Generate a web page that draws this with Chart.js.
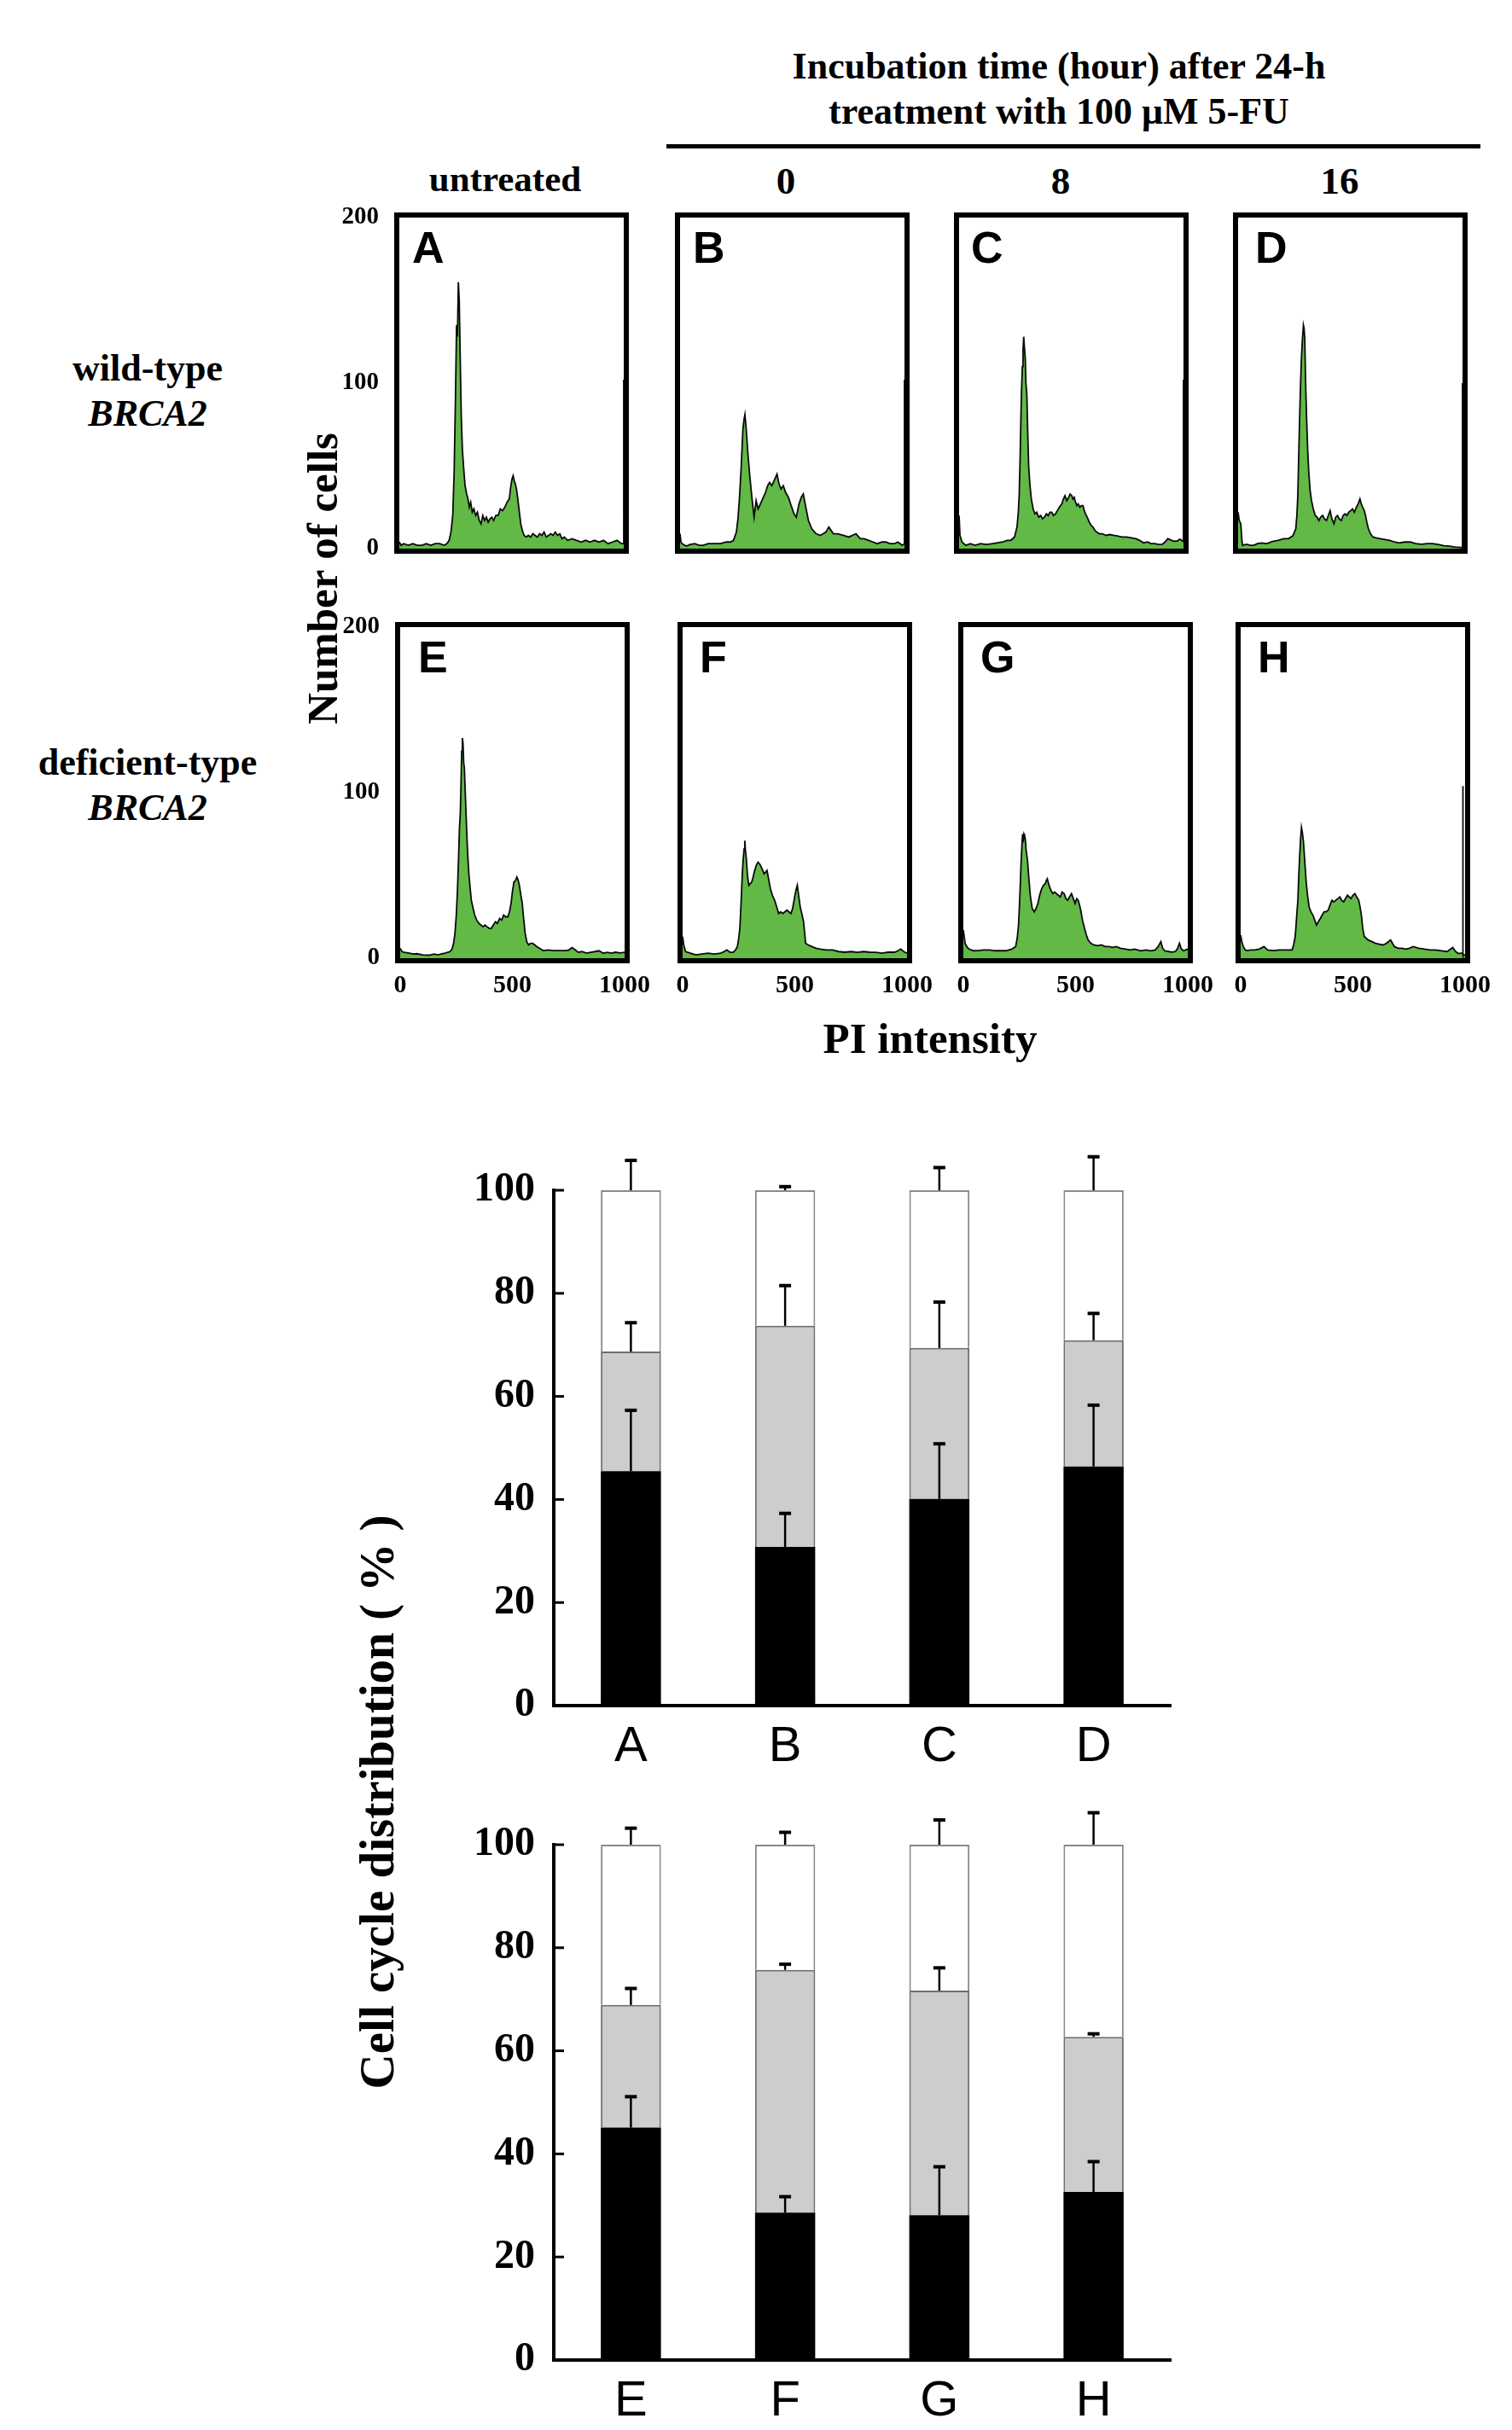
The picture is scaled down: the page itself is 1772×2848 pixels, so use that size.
<!DOCTYPE html>
<html><head><meta charset="utf-8">
<script src="https://cdn.jsdelivr.net/npm/chart.js@4.4.1/dist/chart.umd.min.js"></script>
<style>
html,body{margin:0;padding:0;background:#fff;}
body{width:1772px;height:2848px;position:relative;overflow:hidden;}
.t{position:absolute;font-family:"Liberation Serif","Times New Roman",serif;font-weight:bold;color:#000;white-space:nowrap;transform:translate(-50%,-50%);line-height:1;}
.rot{transform:translate(-50%,-50%) rotate(-90deg);}
.lt{position:absolute;font-family:"Liberation Sans",Arial,sans-serif;font-weight:bold;color:#000;line-height:1;font-size:52px;}
canvas{position:absolute;}
</style></head><body>

<div class="t" style="left:1241px;top:78px;font-size:44px;">Incubation time (hour) after 24-h</div>
<div class="t" style="left:1241px;top:131px;font-size:44px;">treatment with 100 μM 5-FU</div>
<div style="position:absolute;left:781px;top:169px;width:954px;height:5px;background:#000;"></div>
<div class="t" style="left:592px;top:209px;font-size:43px;">untreated</div>
<div class="t" style="left:921px;top:212px;font-size:45px;">0</div>
<div class="t" style="left:1243px;top:212px;font-size:45px;">8</div>
<div class="t" style="left:1570px;top:212px;font-size:45px;">16</div>
<div class="t" style="left:173px;top:432px;font-size:44px;">wild-type</div>
<div class="t" style="left:173px;top:485px;font-size:44px;font-style:italic;">BRCA2</div>
<div class="t" style="left:173px;top:894px;font-size:44px;">deficient-type</div>
<div class="t" style="left:173px;top:947px;font-size:44px;font-style:italic;">BRCA2</div>
<div class="t rot" style="left:378px;top:678px;font-size:51px;">Number of cells</div>
<div class="t" style="left:1090px;top:1217px;font-size:51px;">PI intensity</div>
<div class="t rot" style="left:441px;top:2112px;font-size:57px;">Cell cycle distribution ( % )</div>

<script>
// ---------- Histogram data (PI intensity vs number of cells) ----------
const histA_x = [0,8,20,40,60,80,100,120,140,160,180,200,212,222,230,238,244,250,255,259,263,267,271,276,281,287,293,300,306,312,318,325,332,340,348,356,364,372,380,388,396,404,412,420,430,440,450,460,470,480,490,496,502,507,512,517,522,528,534,541,548,556,565,575,585,595,605,615,625,635,645,655,665,675,685,695,705,715,725,735,750,770,790,810,830,850,870,890,910,930,950,970,990,1000,1000];
const histA_y = [4,2,3,2,3,2,2,3,2,3,3,2,3,5,10,20,45,90,135,128,161,150,118,80,60,48,38,33,30,25,28,22,24,20,22,17,15,20,17,19,16,18,19,17,20,20,24,23,25,28,30,37,42,44,41,39,36,30,23,15,11,8,7,8,7,9,8,7,9,8,10,7,8,9,8,10,8,9,6,7,5,6,5,4,5,4,5,4,5,3,4,5,3,3,102];

const histB_x = [0,4,9,28,45,66,85,104,125,155,180,206,225,238,251,258,264,272,280,285,289,295,302,310,320,330,339,348,358,371,381,390,399,409,419,432,441,450,460,470,483,495,508,518,530,540,549,559,572,587,606,625,638,650,663,683,702,727,752,784,803,820,841,860,879,900,917,935,956,970,981,990,1000,1000];
const histB_y = [9,4,3,1.5,2.5,3,2,2,3,3,3,4,4,5,10,18,29,48,72,78,81,72,58,45,31,19,29,24,27,31,34,38,40,38,41,45,39,36,38,34,31,26,21,19,27,31,33,26,17,12,9,8,9,10,13,9,9,8,7,9,6,6,5,4,3,4,4,3,3,4,3,2,3,102];

const histC_x = [0,4,13,30,50,72,95,122,150,172,195,213,230,247,258,264,268,272,275,278,282,285,288,291,295,298,302,306,310,316,322,330,338,346,355,364,372,380,389,397,405,413,421,430,438,447,452,458,465,472,480,488,495,502,508,513,519,525,531,538,545,552,558,563,571,580,589,597,605,613,625,638,655,672,688,705,725,747,768,788,805,822,840,855,872,890,905,918,930,940,947,960,972,980,988,995,1000,1000];
const histC_y = [20,8,4,2,3,2,3,2.5,3,3.5,4,5,5,7,13,22,33,55,76,95,110,120,128,122,115,100,93,70,50,38,30,24,21,22,19,20,18,19,21,20,22,22,20,21,23,25,26,27,30,32,29,31,33,32,30,31,28,26,27,25,26,26,23,21,19,16,14,13,11,10,9,9,8,8.5,8,7.7,7,7,6.5,6,5,3.5,4,3,3,2.5,2.6,4,6,5.5,5,4.5,4.6,5.5,5.6,4.5,4.3,102];

const histD_x = [0,5,12,17,20,37,55,70,86,103,128,153,178,203,224,244,257,262,266,270,274,278,282,286,291,294,297,301,305,310,315,321,327,335,344,352,360,368,377,385,394,402,410,418,427,435,443,451,460,468,476,485,493,502,510,518,527,535,543,549,555,562,568,575,581,590,601,615,634,655,676,697,718,742,767,792,817,842,867,892,917,942,967,985,1000,1000];
const histD_y = [22,17,15,5,2,2.6,2,2,3,3.4,3,4.3,5,6,6,7.7,12,20,32,55,78,98,114,125,135,133,127,100,80,60,46,35,29,24,20,19,17,19,20,18,17,20,23,18,15,19,20,18,17,20,21,20,22,23,24,22,25,27,30,27,25,23,20,15,12,9,7,6.5,6,5.5,5,4,3.4,4,4,3,2.6,3,3,2.5,1.7,1.5,1,0.8,0.5,100];

const histE_x = [0,8,18,40,60,74,100,129,150,170,185,200,212,222,231,238,244,250,255,260,264,268,271,274,277,280,283,286,290,295,300,306,312,317,325,332,341,351,360,369,378,387,397,406,415,424,433,443,452,461,470,480,487,494,500,507,514,520,526,531,538,544,550,557,564,572,581,590,600,609,620,637,660,683,705,720,738,752,766,780,793,810,830,849,868,886,905,923,940,959,980,1000];
const histE_y = [6,4,3.6,3,2.5,2.7,2,1.8,2.5,2,2.7,3,3.6,4,5.5,9,15,26,40,60,78,88,105,125,133,130,118,115,100,82,65,51,42,35,30,26,23,21,20,19,20,19,18,18,20,22,21,24,23,26,25,25,28,33,40,46,47,49,47,44,38,33,24,15,10,8,9,9,8,7,6,4.6,5,4.6,4.6,4.6,4.6,5,6.4,5,3.6,4,3,3.6,4,4.5,3,3.5,3,3.6,3.2,3.6];

const histF_x = [0,5,13,35,59,85,114,140,170,185,197,212,225,236,244,250,255,260,266,270,274,277,280,284,289,295,301,308,314,321,328,336,343,351,357,363,370,376,383,391,400,410,419,428,437,446,455,465,474,483,490,498,505,511,517,524,531,539,544,548,560,576,595,613,640,668,695,723,750,779,806,834,860,889,915,945,960,972,985,1000];
const histF_y = [13,8,4,3,2,2.5,3,2.5,3,4,5,3.5,3.5,5,7,12,18,32,51,60,66,71,65,60,50,44,45,46,49,53,56,58,57,55,53,51,52,53,48,42,38,35,31,27,28,27,28,29,28,27,30,36,41,44,38,31,27,22,15,9,8,7,6,5.5,5,5,4,3.6,4,3.5,4,3.6,3.5,3,3.6,3.6,4.5,5.5,4,3];

const histG_x = [0,4,8,15,25,45,66,90,116,140,166,190,216,233,240,246,250,254,257,261,264,267,270,273,276,280,286,292,299,307,316,324,332,340,349,357,365,370,374,382,390,399,407,415,423,432,440,449,457,465,473,482,490,498,505,512,518,523,531,540,548,556,568,581,598,615,632,648,665,681,700,723,744,764,790,814,835,855,868,880,888,897,915,930,945,955,963,970,980,990,1000];
const histG_y = [17,13,9,7,5.5,4.5,4.6,5,5,4.5,4.6,4.5,5.5,7,12,20,32,45,57,68,75,70,75,74,72,65,59,48,37,30,28,30,33,38,42,44,45,47,48,44,41,39,40,39,38,37,40,39,36,35,37,39,36,33,36,35,32,29,23,18,14,11,9,8,7.5,8,7,7,6.5,7,6,5.5,5,5.5,4.5,5,4.5,5,7,10,6,4.5,4,3.7,4,6,9,6,4.5,5,5.5];

const histH_x = [0,5,12,20,28,45,62,83,104,120,146,170,196,215,229,236,243,248,251,255,259,263,267,271,275,280,286,292,298,305,313,322,330,338,346,355,363,372,381,390,398,407,415,424,433,442,450,459,467,476,484,492,500,509,517,526,532,538,544,551,560,568,585,601,618,635,650,668,685,702,718,735,752,769,794,819,844,869,895,920,945,958,970,982,989,990,991,1000];
const histH_y = [14,10,7,5,4.6,5,5,5.5,7,5,4.6,5,5,5,5,8,13,22,28,35,50,62,72,79,76,70,58,46,38,31,28,26,23,20,22,24,26,28,28,29,32,35,34,35,36,37,35,34,36,38,37,36,38,39,37,35,31,26,18,13,12,11,10,9,8.5,8,9,11,7,6,6,5.5,6,7,6,5.5,5,5,4.5,4,6.4,4,2.8,3,3,104,2,2];

const histTicksX = [0, 500, 1000];
const histTicksY = [0, 100, 200];

// ---------- Cell-cycle distribution data (%) ----------
const barCats1 = ['A','B','C','D'];
const g1Top = [45.5, 30.8, 40.1, 46.4];
const sTop  = [23.2, 42.9, 29.3, 24.5];
const g2Top = [31.3, 26.3, 30.6, 29.1];
const g1ErrTop = [11.8, 6.5, 10.7, 11.9];
const sErrTop  = [5.6, 7.8, 8.9, 5.2];
const g2ErrTop = [5.8, 0.7, 4.4, 6.5];

const barCats2 = ['E','F','G','H'];
const g1Bot = [45.1, 28.6, 28.1, 32.6];
const sBot  = [23.8, 47.1, 43.6, 30.1];
const g2Bot = [31.1, 24.3, 28.3, 37.3];
const g1ErrBot = [6.0, 3.1, 9.4, 5.9];
const sErrBot  = [3.2, 1.1, 4.4, 0.6];
const g2ErrBot = [3.2, 2.4, 4.8, 6.2];

const barTicksY = [0, 20, 40, 60, 80, 100];

// ---------- helpers ----------
const SERIF = '"Liberation Serif","Times New Roman",serif';
const SANS = '"Liberation Sans",Arial,sans-serif';

const boxPlugin = {
  id: 'box',
  afterDraw(chart) {
    const {ctx, chartArea: a} = chart;
    ctx.save();
    ctx.strokeStyle = '#000';
    ctx.lineWidth = 6;
    ctx.strokeRect(a.left - 3, a.top - 3, a.right - a.left + 6, a.bottom - a.top + 6);
    ctx.restore();
  }
};

function makeCanvas(left, top, w, h) {
  const c = document.createElement('canvas');
  c.width = w; c.height = h;
  c.style.left = left + 'px'; c.style.top = top + 'px';
  c.style.width = w + 'px'; c.style.height = h + 'px';
  document.body.appendChild(c);
  return c;
}

function histPanel(letter, xs, ys, areaLeft, areaTop, showY, showX, letterOff) {
  const AW = 263, AH = 388, YW = 90, PT = 60, PR = 60, XH = 60;
  const c = makeCanvas(areaLeft - YW, areaTop - PT, YW + AW + PR, PT + AH + XH);
  new Chart(c, {
    type: 'line',
    data: { datasets: [{
      data: xs.map((x, i) => ({x: x, y: ys[i]})),
      borderColor: '#0a0a0a', borderWidth: 1.8,
      backgroundColor: '#62b946', fill: 'origin',
      pointRadius: 0, tension: 0
    }]},
    options: {
      responsive: false, animation: false, devicePixelRatio: 1,
      layout: { padding: { top: PT, right: PR, left: 0, bottom: 0 } },
      plugins: { legend: { display: false }, tooltip: { enabled: false } },
      scales: {
        x: {
          type: 'linear', min: 0, max: 1000,
          afterFit: s => { s.height = XH; },
          afterBuildTicks: s => { s.ticks = histTicksX.map(v => ({value: v})); },
          grid: { display: false, drawTicks: false }, border: { display: false },
          ticks: { display: showX, padding: 14, color: '#000', maxRotation: 0, autoSkip: false,
                   callback: v => String(v),
                   font: { family: SERIF, weight: 'bold', size: 30 } }
        },
        y: {
          min: 0, max: 200,
          afterFit: s => { s.width = YW; },
          afterBuildTicks: s => { s.ticks = histTicksY.map(v => ({value: v})); },
          grid: { display: false, drawTicks: false }, border: { display: false },
          ticks: { display: showY, padding: 24, color: '#000',
                   callback: v => String(v),
                   font: { family: SERIF, weight: 'bold', size: 29 } }
        }
      }
    },
    plugins: [boxPlugin]
  });
  const d = document.createElement('div');
  d.className = 'lt';
  d.textContent = letter;
  d.style.left = (areaLeft + letterOff) + 'px';
  d.style.top = (areaTop + 9) + 'px';
  document.body.appendChild(d);
}

const errPlugin = {
  id: 'errbars',
  afterDatasetsDraw(chart) {
    const {ctx} = chart;
    const y = chart.scales.y;
    const n = chart.data.labels.length;
    ctx.save();
    ctx.strokeStyle = '#000';
    for (let j = 0; j < n; j++) {
      let cum = 0;
      chart.data.datasets.forEach((ds, di) => {
        cum += ds.data[j];
        const bar = chart.getDatasetMeta(di).data[j];
        const y0 = y.getPixelForValue(cum);
        const y1 = y.getPixelForValue(cum + ds.errors[j]);
        ctx.lineWidth = 2.5;
        ctx.beginPath(); ctx.moveTo(bar.x, y0); ctx.lineTo(bar.x, y1); ctx.stroke();
        ctx.lineWidth = 4;
        ctx.beginPath(); ctx.moveTo(bar.x - 7, y1); ctx.lineTo(bar.x + 7, y1); ctx.stroke();
      });
    }
    // inward tick marks on y axis
    const a = chart.chartArea;
    ctx.lineWidth = 3;
    barTicksY.forEach(v => {
      const py = y.getPixelForValue(v);
      ctx.beginPath(); ctx.moveTo(a.left, py); ctx.lineTo(a.left + 12, py); ctx.stroke();
    });
    ctx.restore();
  }
};

function barChart(cats, g1, s, g2, e1, e2, e3, areaTop) {
  const AW = 723, AH = 604, YW = 110, PT = 80, PR = 60, XH = 84;
  const c = makeCanvas(649 - YW, areaTop - PT, YW + AW + PR, PT + AH + XH);
  const common = { barPercentage: 0.39, categoryPercentage: 1.0, borderSkipped: 'start' };
  new Chart(c, {
    type: 'bar',
    data: {
      labels: cats,
      datasets: [
        Object.assign({ label: 'G0/G1', data: g1, errors: e1, backgroundColor: '#000', borderColor: '#000', borderWidth: 0 }, common),
        Object.assign({ label: 'S', data: s, errors: e2, backgroundColor: '#cdcdcd', borderColor: '#6e6e6e', borderWidth: 2 }, common),
        Object.assign({ label: 'G2/M', data: g2, errors: e3, backgroundColor: '#ffffff', borderColor: '#8a8a8a', borderWidth: 2 }, common)
      ]
    },
    options: {
      responsive: false, animation: false, devicePixelRatio: 1,
      layout: { padding: { top: PT, right: PR, left: 0, bottom: 0 } },
      plugins: { legend: { display: false }, tooltip: { enabled: false } },
      scales: {
        x: {
          stacked: true,
          afterFit: sc => { sc.height = XH; },
          grid: { display: false, drawTicks: false },
          border: { display: true, color: '#000', width: 4 },
          ticks: { padding: 14, color: '#000', font: { family: SANS, size: 58 } }
        },
        y: {
          stacked: true, min: 0, max: 100,
          afterFit: sc => { sc.width = YW; },
          afterBuildTicks: sc => { sc.ticks = barTicksY.map(v => ({value: v})); },
          grid: { display: false, drawTicks: false },
          border: { display: true, color: '#000', width: 4 },
          ticks: { padding: 22, color: '#000', font: { family: SERIF, weight: 'bold', size: 48 } }
        }
      }
    },
    plugins: [errPlugin]
  });
}

// ---------- build ----------
histPanel('A', histA_x, histA_y, 468, 255, true, false, 15);
histPanel('B', histB_x, histB_y, 797, 255, false, false, 15);
histPanel('C', histC_x, histC_y, 1124, 255, false, false, 14);
histPanel('D', histD_x, histD_y, 1451, 255, false, false, 20);
histPanel('E', histE_x, histE_y, 469, 735, true, true, 21);
histPanel('F', histF_x, histF_y, 800, 735, false, true, 20);
histPanel('G', histG_x, histG_y, 1129, 735, false, true, 20);
histPanel('H', histH_x, histH_y, 1454, 735, false, true, 20);

barChart(barCats1, g1Top, sTop, g2Top, g1ErrTop, sErrTop, g2ErrTop, 1395);
barChart(barCats2, g1Bot, sBot, g2Bot, g1ErrBot, sErrBot, g2ErrBot, 2162);
</script>
</body></html>
